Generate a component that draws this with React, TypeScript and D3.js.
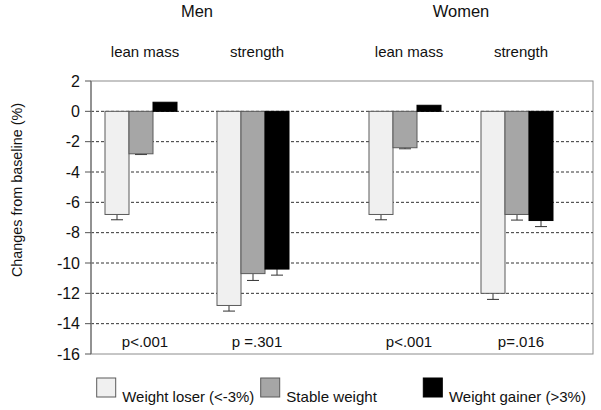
import React from "react";
import * as d3 from "d3";

const sexes = ["Men", "Women"];
const measures = ["lean mass", "strength"];
const series = ["Weight loser (<-3%)", "Stable weight", "Weight gainer (>3%)"];
const seriesColors = ["#f0f0f0", "#a6a6a6", "#000000"];
// values per [sex][measure][series]
const menLean = [-6.8, -2.8, 0.6];
const menStrength = [-12.8, -10.7, -10.4];
const womenLean = [-6.8, -2.4, 0.4];
const womenStrength = [-12.0, -6.8, -7.2];
const menLeanErr = [0.35, 0.05, 0];
const menStrengthErr = [0.37, 0.45, 0.4];
const womenLeanErr = [0.35, 0.07, 0];
const womenStrengthErr = [0.4, 0.37, 0.4];
const pValues = [["p<.001", "p =.301"], ["p<.001", "p=.016"]];
const yTicks = [2, 0, -2, -4, -6, -8, -10, -12, -14, -16];
const gridTicks = [0, -2, -4, -6, -8, -10, -12, -14];

const values = [[menLean, menStrength], [womenLean, womenStrength]];
const errors = [[menLeanErr, menStrengthErr], [womenLeanErr, womenStrengthErr]];

const FONT = "'Liberation Sans', Arial, sans-serif";

export default function App() {
  const W = 601, H = 410;
  const left = 91, right = 593, top = 81, bottom = 354;
  const y = d3.scaleLinear().domain([-16, 2]).range([bottom, top]);
  const outer = d3.scalePoint<string>().domain(sexes).range([197, 461]);
  const inner = d3.scalePoint<string>().domain(measures).range([-56, 56]);
  const bandW = 72;
  const bar = d3.scaleBand<string>().domain(series).range([-bandW / 2, bandW / 2]).padding(0);
  const legendX = [96.7, 260.7, 423.3];
  const legendW = [132, 90.6, 137];

  return (
    <svg width={W} height={H} style={{ position: "absolute", left: 0, top: 0, background: "#fff" }} fontFamily={FONT}>
      <rect x={0} y={0} width={W} height={H} fill="#fff" />
      {/* frame */}
      <rect x={left} y={top} width={right - left} height={bottom - top} fill="none" stroke="#8c8c8c" strokeWidth={1} />
      {/* grid */}
      {gridTicks.map((t) => (
        <line key={t} x1={left} x2={right} y1={y(t)} y2={y(t)} stroke="#333" strokeWidth={1} strokeDasharray="3,2" />
      ))}
      {/* y axis */}
      <line x1={left} x2={left} y1={top} y2={bottom} stroke="#808080" strokeWidth={1.5} />
      {yTicks.map((t) => (
        <g key={t}>
          <line x1={85} x2={left} y1={y(t)} y2={y(t)} stroke="#555" strokeWidth={1} />
          <text x={80} y={y(t)} dy="0.36em" textAnchor="end" fontSize={16} fill="#111">{t}</text>
        </g>
      ))}
      <text transform={`translate(22,190) rotate(-90)`} textAnchor="middle" fontSize={14} fill="#111" textLength={174} lengthAdjust="spacingAndGlyphs">Changes from baseline (%)</text>
      {/* bars */}
      {sexes.map((s, si) =>
        measures.map((m, mi) => {
          const cx = (outer(s) as number) + (inner(m) as number);
          return (
            <g key={s + m}>
              {series.map((se, k) => {
                const v = values[si][mi][k];
                const e = errors[si][mi][k];
                const x0 = cx + (bar(se) as number);
                const bw = bar.bandwidth();
                const yv = y(v), y0 = y(0);
                const xm = x0 + bw / 2;
                const ye = y(v < 0 ? v - e : v + e);
                return (
                  <g key={se}>
                    {e > 0 && (
                      <g stroke="#333" strokeWidth={1}>
                        <line x1={xm} x2={xm} y1={yv} y2={ye} />
                        <line x1={xm - 6} x2={xm + 6} y1={ye} y2={ye} />
                      </g>
                    )}
                    <rect x={x0} y={Math.min(yv, y0)} width={bw} height={Math.abs(y0 - yv)} fill={seriesColors[k]} stroke={k === 2 ? "#000" : "#5a5a5a"} strokeWidth={1} />
                  </g>
                );
              })}
              <text x={cx + 4} y={57} textAnchor="middle" fontSize={15} fill="#111">{m}</text>
              <text x={cx + 4} y={347} textAnchor="middle" fontSize={15} fill="#111">{pValues[si][mi]}</text>
            </g>
          );
        })
      )}
      {sexes.map((s) => (
        <text key={s} x={outer(s) as number} y={17} textAnchor="middle" fontSize={16.5} fill="#111">{s}</text>
      ))}
      {/* legend */}
      {series.map((se, k) => (
        <g key={se}>
          <rect x={legendX[k]} y={378} width={19} height={19} fill={seriesColors[k]} stroke={k === 2 ? "#000" : "#5a5a5a"} strokeWidth={1} />
          <text x={legendX[k] + 25.6} y={402} fontSize={15} fill="#111" textLength={legendW[k]} lengthAdjust="spacingAndGlyphs">{se}</text>
        </g>
      ))}
    </svg>
  );
}
